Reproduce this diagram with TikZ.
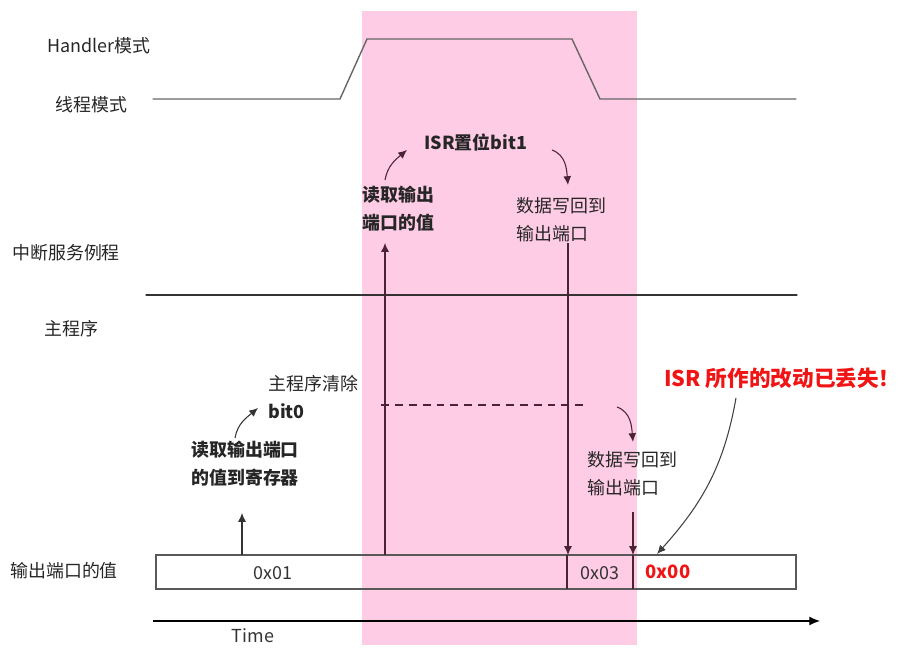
\documentclass[tikz,border=0pt]{standalone}
\usepackage{fontspec}
\setmainfont{Noto Sans CJK SC}
\usepackage{tkz-euclide}
\usetikzlibrary{arrows.meta}
\definecolor{isrpink}{HTML}{FFCCE5}
\definecolor{arrowred}{HTML}{4A2335}
\definecolor{lostred}{HTML}{F01414}
\tikzset{
    lbl/.style={anchor=west,inner sep=0pt,align=left,text=black!85,
        font=\fontsize{10.2}{15.9}\selectfont},
    boldlbl/.style={lbl,font=\fontsize{10.2}{15.9}\selectfont\bfseries},
    val/.style={inner sep=0pt,text=black!80,font=\fontsize{10.2}{12}\selectfont},
    lost/.style={inner sep=0pt,anchor=west,text=lostred,font=\fontsize{12.3}{14}\selectfont\bfseries},
    arr/.style={draw=arrowred,line width=0.6pt,-{Latex[length=5pt,width=4.5pt]}},
    wave/.style={draw=black!60,line width=0.8pt},
}
\begin{document}
\begin{tikzpicture}[x=0.02cm,y=0.02cm]
                \useasboundingbox (0,0) rectangle (921,666);
                \fill[isrpink] (362,21) rectangle (637,655);
                \tkzDefPoints{153/567/A,340/567/B,367/627/C,572/627/D,600/567/E,796/567/F}
                \tkzDefPoints{146/371/G,797/371/H}
                \tkzDrawPolySeg[wave](A,B,C,D,E,F)
                \tkzDrawSegment[draw=black!80,line width=0.7pt](G,H)
                \draw[draw=black!65,line width=0.7pt] (156,77) rectangle (796,111);
                \draw[draw=arrowred,line width=0.6pt] (567,77) -- (567,111) (633,77) -- (633,111);
                \draw[line width=0.6pt,-{Latex[length=6pt,width=5pt]}] (153,45) -- (820,45);
                \draw[draw=arrowred,line width=0.6pt,dash pattern=on 4.5pt off 3.4pt] (381,261) -- (585,261);
                \node[lbl] (hm) at (47,620) {Handler模式};
                \node[lbl] (tm) at (55,561) {线程模式};
                \node[lbl] (isrl) at (12,413) {中断服务例程};
                \node[lbl] (mainl) at (44,337) {主程序};
                \node[lbl] (outl) at (10,95) {输出端口的值};
                \node[val] (time) at (253,30) {Time};
                \node[val] (v1) at (273,93) {0x01};
                \node[val] (v3) at (600,93) {0x03};
                \node[val,text=lostred,font=\fontsize{10.5}{12}\selectfont\bfseries] (v0) at (668,94) {0x00};
                \node[boldlbl] (rd1) at (362,457) {读取输出\\端口的值};
                \node[boldlbl] (isrset) at (424,523) {ISR置位bit1};
                \node[lbl] (wb1) at (516,446) {数据写回到\\输出端口};
                \node[lbl] (clr) at (268,269) {主程序清除\\\textbf{bit0}};
                \node[boldlbl] (rd0) at (191,202) {读取输出端口\\的值到寄存器};
                \node[lbl] (wb0) at (587,192) {数据写回到\\输出端口};
                \node[lost] (lost) at (664,288) {ISR 所作的改动已丢失！};
                \tkzDefPoints{385/111/a1,385/423/a2,568/423/b1,568/111/b2,242/111/c1,242/153/c2,633/154/d1,633/111/d2}
                \tkzDefPoints{385/486/e1,407/516/e2,552/516/f1,568/481/f2,617/259/g1,633/224/g2,235/228/h1,258/258/h2}
                \tkzDefPoints{736/268/k1,657/112/k2}
                \draw[arr] (a1) -- (a2);
                \draw[arr] (b1) -- (b2);
                \draw[arr,draw=black!80] (c1) -- (c2);
                \draw[arr] (d1) -- (d2);
                \draw[arr] (e1) to[out=80,in=-140] (e2);
                \draw[arr] (f1) to[out=-20,in=95] (f2);
                \draw[arr] (g1) to[out=-20,in=95] (g2);
                \draw[arr,draw=black!80] (h1) to[out=80,in=-140] (h2);
                \draw[arr,draw=black!75] (k1) to[out=-100,in=48] (k2);
            \end{tikzpicture}
\end{document}
